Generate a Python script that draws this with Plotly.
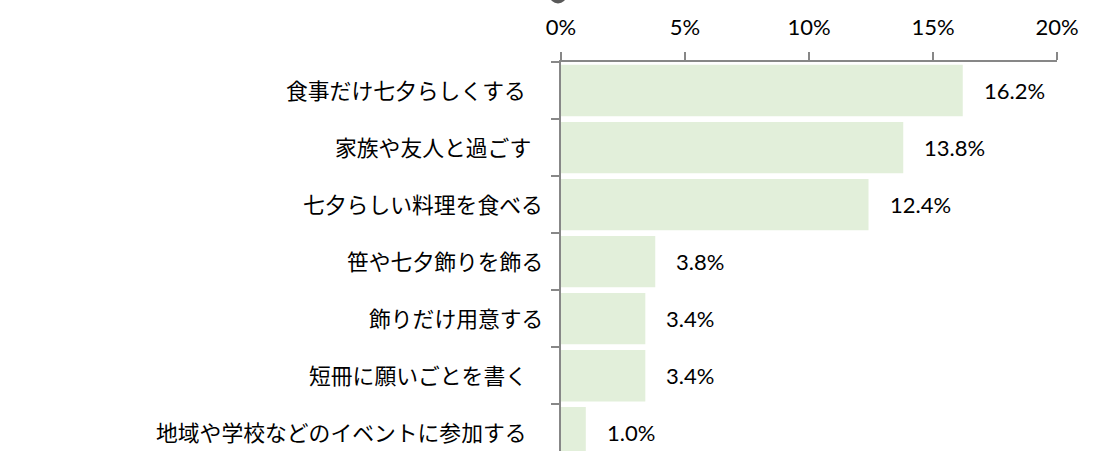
import plotly.graph_objects as go

categories = ["食事だけ七夕らしくする", "家族や友人と過ごす", "七夕らしい料理を食べる",
              "笹や七夕飾りを飾る", "飾りだけ用意する", "短冊に願いごとを書く",
              "地域や学校などのイベントに参加する"]
values = [16.2, 13.8, 12.4, 3.8, 3.4, 3.4, 1.0]
value_labels = ["16.2%", "13.8%", "12.4%", "3.8%", "3.4%", "3.4%", "1.0%"]
x_ticks = [0, 5, 10, 15, 20]
x_tick_labels = ["0%", "5%", "10%", "15%", "20%"]

# style: per-label right-edge offset from the axis (px)
label_shift = [-33, -28, -16, -16, -16, -32, -32]

AXIS = "#878787"
CJK = "Noto Sans CJK JP"
NUM = "Lato"

fig = go.Figure()
fig.add_trace(go.Bar(
    x=values, y=categories, orientation="h",
    marker=dict(color="#E2EFDA", line=dict(width=0)),
    width=0.9, hoverinfo="skip",
))

annotations = []
for c, v, t in zip(categories, values, value_labels):
    annotations.append(dict(x=v, y=c, xref="x", yref="y", text=t, showarrow=False,
                            xanchor="left", yanchor="middle", xshift=19,
                            font=dict(family=NUM, size=22, color="#000000")))
for c, s in zip(categories, label_shift):
    annotations.append(dict(x=0, y=c, xref="paper", yref="y", text=c, showarrow=False,
                            xanchor="right", yanchor="middle", xshift=s, yshift=1,
                            font=dict(family=CJK, size=21.8, color="#000000")))

fig.update_layout(
    width=1100, height=451,
    margin=dict(l=561, r=43, t=62, b=0, pad=0),
    paper_bgcolor="white", plot_bgcolor="white",
    showlegend=False,
    annotations=annotations,
    shapes=[dict(type="circle", xref="paper", yref="paper",
                 x0=-0.0232, x1=0.0111, y0=1.1504, y1=1.1941,
                 fillcolor="#595959", line=dict(width=0))],
    xaxis=dict(side="top", range=[0, 20], tickvals=x_ticks, ticktext=x_tick_labels,
               showgrid=False, zeroline=False, showline=True, linecolor=AXIS, linewidth=2,
               ticks="outside", ticklen=8, tickwidth=2, tickcolor=AXIS,
               tickfont=dict(family=NUM, size=22, color="#000000"), ticklabelstandoff=8),
    yaxis=dict(type="category", categoryorder="array", categoryarray=categories,
               range=[6.32, -0.5], showgrid=False, zeroline=False,
               showline=True, linecolor=AXIS, linewidth=2,
               ticks="outside", ticklen=8, tickwidth=2, tickcolor=AXIS,
               tickson="boundaries", showticklabels=False),
)

fig.write_html("out.html")
